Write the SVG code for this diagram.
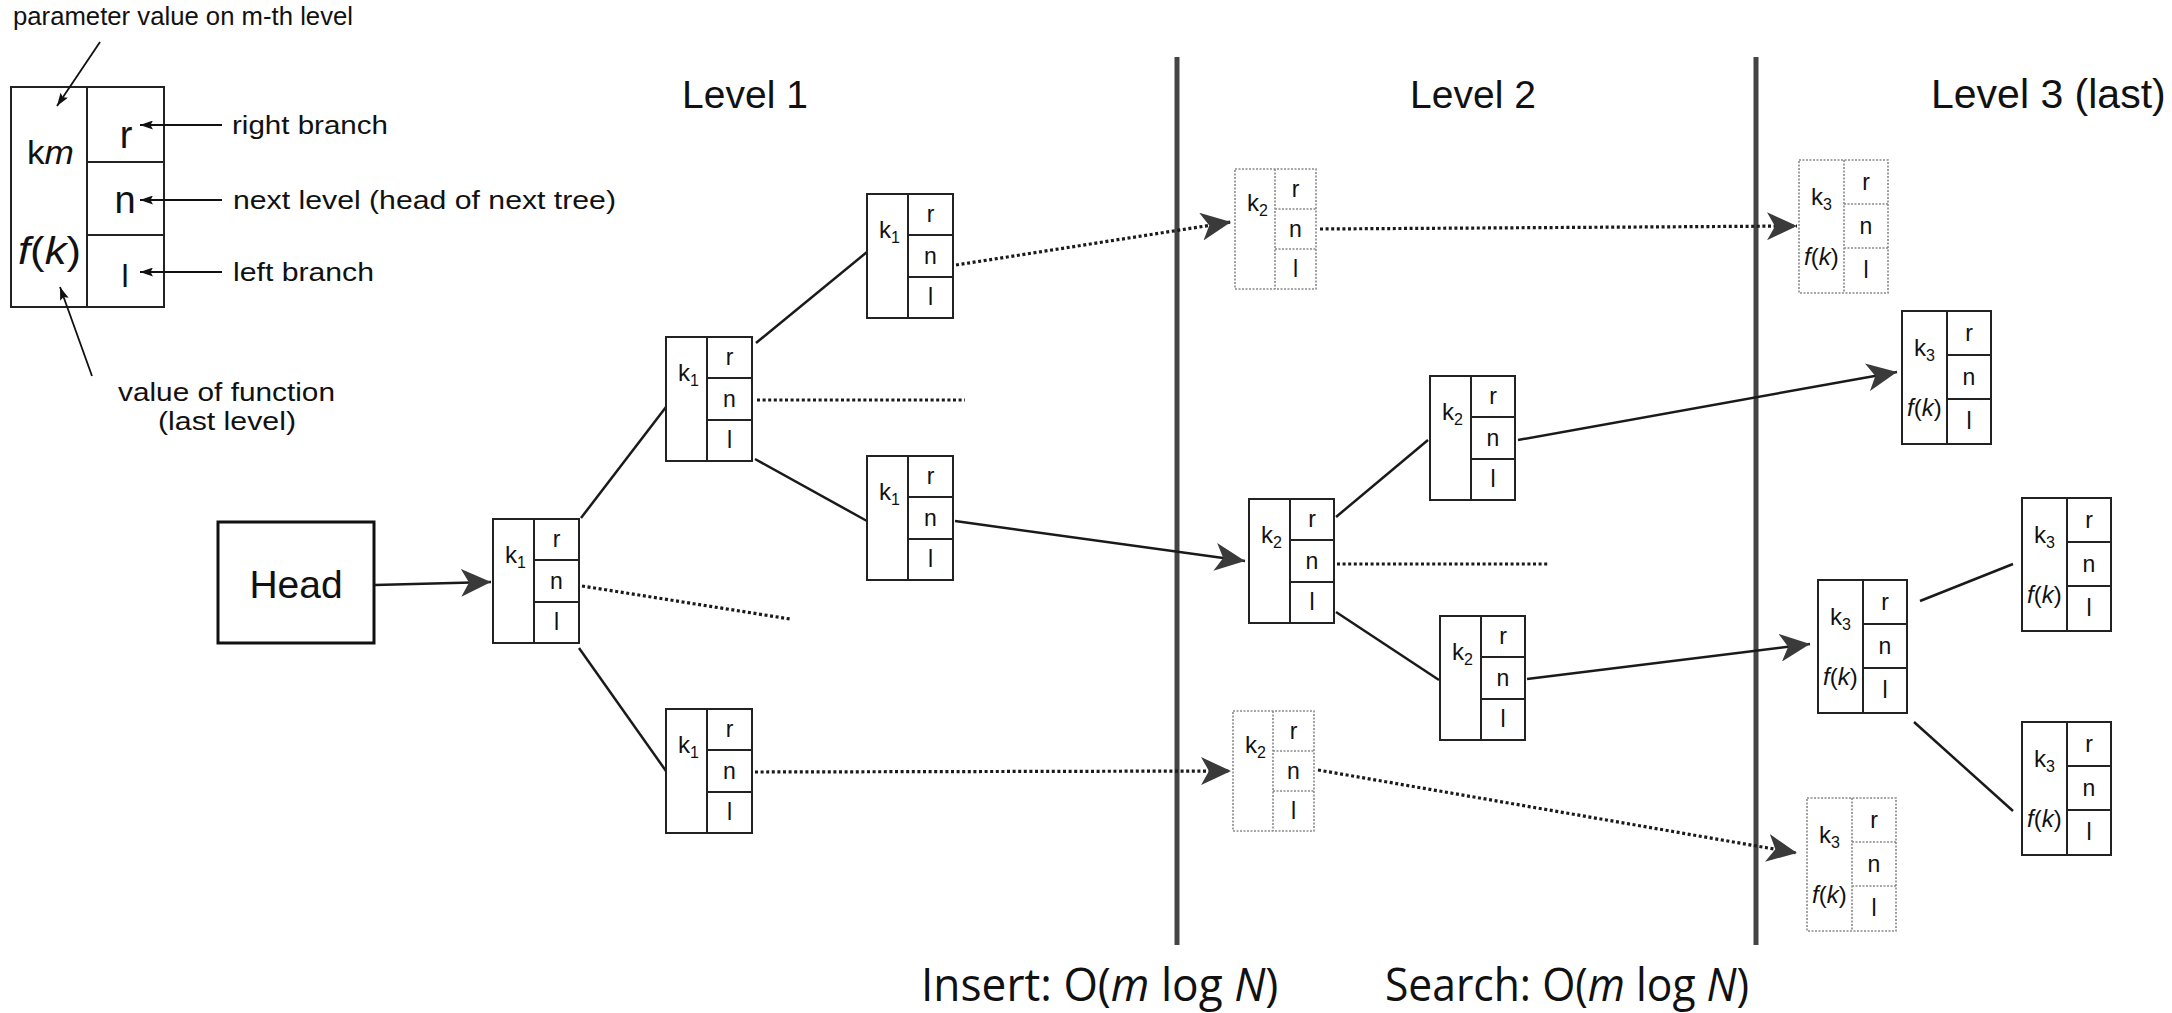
<svg xmlns="http://www.w3.org/2000/svg" width="2172" height="1013" viewBox="0 0 2172 1013">
<defs>
<marker id="ah" viewBox="0 0 30 28" refX="30" refY="14" markerWidth="30" markerHeight="28" markerUnits="userSpaceOnUse" orient="auto">
<path d="M0,0 L30,14 L0,28 L8,14 Z" fill="#3a3a3a"/>
</marker>
<marker id="sa" viewBox="0 0 13 9" refX="13" refY="4.5" markerWidth="13" markerHeight="9" markerUnits="userSpaceOnUse" orient="auto">
<path d="M0,0 L13,4.5 L0,9 L2.5,4.5 Z" fill="#111"/>
</marker>
<style>
text{font-family:"Liberation Sans",Arial,sans-serif;fill:#111}
.box rect{fill:#fff;stroke:#222;stroke-width:2}
.box path{fill:none;stroke:#222;stroke-width:2}
.dot rect{fill:#fff;stroke:#8a8a8a;stroke-width:1.6;stroke-dasharray:2 1.5}
.dot path{fill:none;stroke:#8a8a8a;stroke-width:1.6;stroke-dasharray:2 1.5}
.k{font-size:24px}
.s{font-size:16px}
.c{font-size:23px;text-anchor:middle}
.i{font-style:italic}
.ln{stroke:#1a1a1a;stroke-width:2.5;fill:none}
.dl{stroke:#1a1a1a;stroke-width:3.2;stroke-dasharray:3 2.6;fill:none}
.thin{stroke:#111;stroke-width:1.8;fill:none}
.vl{stroke:#444;stroke-width:5}
.lg{font-size:26px}
.lv{font-size:39px}
.lv3{font-size:41px}
.cx{font-family:"Open Sans","Noto Sans",sans-serif;font-size:46px}
</style>
</defs>
<rect width="2172" height="1013" fill="#fff"/>

<g id="separators">
<line class="vl" x1="1177" y1="57" x2="1177" y2="945"/>
<line class="vl" x1="1756" y1="57" x2="1756" y2="945"/>
</g>

<g id="titles">
<text class="lv" x="745" y="108" text-anchor="middle">Level 1</text>
<text class="lv" x="1473" y="108" text-anchor="middle">Level 2</text>
<text class="lv3" x="1931" y="108">Level 3 (last)</text>
<text class="cx" transform="translate(921,1001) scale(0.962,1)">Insert: O(<tspan class="i">m</tspan> log <tspan class="i">N</tspan>)</text>
<text class="cx" transform="translate(1385,1001) scale(0.926,1)">Search: O(<tspan class="i">m</tspan> log <tspan class="i">N</tspan>)</text>
</g>

<g id="legend">
<text class="lg" x="13" y="25" textLength="340" lengthAdjust="spacingAndGlyphs">parameter value on m-th level</text>
<g class="box">
<rect x="11" y="87" width="153" height="220"/>
<path d="M87,87V307M87,162H164M87,235H164"/>
</g>
<text x="27" y="164" font-size="34" textLength="47" lengthAdjust="spacingAndGlyphs">k<tspan class="i">m</tspan></text>
<text x="18" y="264" font-size="38" textLength="63" lengthAdjust="spacingAndGlyphs"><tspan class="i">f</tspan>(<tspan class="i">k</tspan>)</text>
<text x="126" y="148" font-size="38" text-anchor="middle">r</text>
<text x="125" y="213" font-size="38" text-anchor="middle">n</text>
<text x="125" y="287" font-size="32" text-anchor="middle">l</text>
<line class="thin" x1="222" y1="125" x2="140" y2="125" marker-end="url(#sa)"/>
<line class="thin" x1="222" y1="200" x2="140" y2="200" marker-end="url(#sa)"/>
<line class="thin" x1="222" y1="272" x2="140" y2="272" marker-end="url(#sa)"/>
<line class="thin" x1="100" y1="42" x2="57" y2="106" marker-end="url(#sa)"/>
<line class="thin" x1="92" y1="376" x2="60" y2="287" marker-end="url(#sa)"/>
<text class="lg" x="232" y="134" textLength="156" lengthAdjust="spacingAndGlyphs">right branch</text>
<text class="lg" x="233" y="209" textLength="383" lengthAdjust="spacingAndGlyphs">next level (head of next tree)</text>
<text class="lg" x="233" y="281" textLength="141" lengthAdjust="spacingAndGlyphs">left branch</text>
<text class="lg" x="118" y="401" textLength="217" lengthAdjust="spacingAndGlyphs">value of function</text>
<text class="lg" x="158" y="430" textLength="138" lengthAdjust="spacingAndGlyphs">(last level)</text>
</g>

<g id="head">
<rect x="218" y="522" width="156" height="121" fill="#fff" stroke="#111" stroke-width="3"/>
<text x="296" y="598" font-size="39" text-anchor="middle">Head</text>
</g>

<g id="connectors">
<path class="ln" d="M375,585 L491,582" marker-end="url(#ah)"/>
<path class="ln" d="M581,518 L666,407"/>
<path class="ln" d="M579,648 L666,771"/>
<path class="dl" d="M582,586 L790,619"/>
<path class="ln" d="M756,343 L867,252"/>
<path class="ln" d="M755,459 L867,521"/>
<path class="dl" d="M757,400 L965,400"/>
<path class="dl" d="M956,265 L1231,222" marker-end="url(#ah)"/>
<path class="ln" d="M955,521 L1245,561" marker-end="url(#ah)"/>
<path class="dl" d="M755,772 L1231,771" marker-end="url(#ah)"/>
<path class="dl" d="M1320,229 L1797,226" marker-end="url(#ah)"/>
<path class="ln" d="M1336,517 L1428,440"/>
<path class="ln" d="M1336,612 L1439,680"/>
<path class="dl" d="M1337,564 L1548,564"/>
<path class="ln" d="M1518,440 L1897,372" marker-end="url(#ah)"/>
<path class="ln" d="M1527,679 L1810,644" marker-end="url(#ah)"/>
<path class="dl" d="M1318,770 L1797,853" marker-end="url(#ah)"/>
<path class="ln" d="M1920,601 L2013,564"/>
<path class="ln" d="M1914,722 L2013,811"/>
</g>

<g id="nodeA" class="box" transform="translate(493,519)">
<rect width="86" height="124"/><path d="M41,0V124M41,41H86M41,83H86"/>
<text class="k" x="12" y="44">k<tspan class="s" dy="5">1</tspan></text>
<text class="c" x="63.5" y="28">r</text><text class="c" x="63.5" y="70">n</text><text class="c" x="63.5" y="111">l</text>
</g>
<g id="nodeB" class="box" transform="translate(666,337)">
<rect width="86" height="124"/><path d="M41,0V124M41,41H86M41,83H86"/>
<text class="k" x="12" y="44">k<tspan class="s" dy="5">1</tspan></text>
<text class="c" x="63.5" y="28">r</text><text class="c" x="63.5" y="70">n</text><text class="c" x="63.5" y="111">l</text>
</g>
<g id="nodeC" class="box" transform="translate(867,194)">
<rect width="86" height="124"/><path d="M41,0V124M41,41H86M41,83H86"/>
<text class="k" x="12" y="44">k<tspan class="s" dy="5">1</tspan></text>
<text class="c" x="63.5" y="28">r</text><text class="c" x="63.5" y="70">n</text><text class="c" x="63.5" y="111">l</text>
</g>
<g id="nodeD" class="box" transform="translate(867,456)">
<rect width="86" height="124"/><path d="M41,0V124M41,41H86M41,83H86"/>
<text class="k" x="12" y="44">k<tspan class="s" dy="5">1</tspan></text>
<text class="c" x="63.5" y="28">r</text><text class="c" x="63.5" y="70">n</text><text class="c" x="63.5" y="111">l</text>
</g>
<g id="nodeE" class="box" transform="translate(666,709)">
<rect width="86" height="124"/><path d="M41,0V124M41,41H86M41,83H86"/>
<text class="k" x="12" y="44">k<tspan class="s" dy="5">1</tspan></text>
<text class="c" x="63.5" y="28">r</text><text class="c" x="63.5" y="70">n</text><text class="c" x="63.5" y="111">l</text>
</g>

<g id="nodeF" class="dot" transform="translate(1235,169)">
<rect width="81" height="120"/><path d="M40,0V120M40,40H81M40,80H81"/>
<text class="k" x="12" y="42">k<tspan class="s" dy="5">2</tspan></text>
<text class="c" x="60.5" y="28">r</text><text class="c" x="60.5" y="68">n</text><text class="c" x="60.5" y="108">l</text>
</g>
<g id="nodeG" class="box" transform="translate(1430,376)">
<rect width="85" height="124"/><path d="M41,0V124M41,41H85M41,83H85"/>
<text class="k" x="12" y="44">k<tspan class="s" dy="5">2</tspan></text>
<text class="c" x="63" y="28">r</text><text class="c" x="63" y="70">n</text><text class="c" x="63" y="111">l</text>
</g>
<g id="nodeH" class="box" transform="translate(1249,499)">
<rect width="85" height="124"/><path d="M41,0V124M41,41H85M41,83H85"/>
<text class="k" x="12" y="44">k<tspan class="s" dy="5">2</tspan></text>
<text class="c" x="63" y="28">r</text><text class="c" x="63" y="70">n</text><text class="c" x="63" y="111">l</text>
</g>
<g id="nodeI" class="box" transform="translate(1440,616)">
<rect width="85" height="124"/><path d="M41,0V124M41,41H85M41,83H85"/>
<text class="k" x="12" y="44">k<tspan class="s" dy="5">2</tspan></text>
<text class="c" x="63" y="28">r</text><text class="c" x="63" y="70">n</text><text class="c" x="63" y="111">l</text>
</g>
<g id="nodeJ" class="dot" transform="translate(1233,711)">
<rect width="81" height="120"/><path d="M40,0V120M40,40H81M40,80H81"/>
<text class="k" x="12" y="42">k<tspan class="s" dy="5">2</tspan></text>
<text class="c" x="60.5" y="28">r</text><text class="c" x="60.5" y="68">n</text><text class="c" x="60.5" y="108">l</text>
</g>

<g id="nodeK" class="dot" transform="translate(1799,160)">
<rect width="89" height="133"/><path d="M45,0V133M45,44H89M45,88H89"/>
<text class="k" x="12" y="45">k<tspan class="s" dy="5">3</tspan></text>
<text class="k" x="5" y="105"><tspan class="i">f</tspan>(<tspan class="i">k</tspan>)</text>
<text class="c" x="67" y="30">r</text><text class="c" x="67" y="74">n</text><text class="c" x="67" y="118">l</text>
</g>
<g id="nodeL" class="box" transform="translate(1902,311)">
<rect width="89" height="133"/><path d="M45,0V133M45,44H89M45,88H89"/>
<text class="k" x="12" y="45">k<tspan class="s" dy="5">3</tspan></text>
<text class="k" x="5" y="105"><tspan class="i">f</tspan>(<tspan class="i">k</tspan>)</text>
<text class="c" x="67" y="30">r</text><text class="c" x="67" y="74">n</text><text class="c" x="67" y="118">l</text>
</g>
<g id="nodeM" class="box" transform="translate(1818,580)">
<rect width="89" height="133"/><path d="M45,0V133M45,44H89M45,88H89"/>
<text class="k" x="12" y="45">k<tspan class="s" dy="5">3</tspan></text>
<text class="k" x="5" y="105"><tspan class="i">f</tspan>(<tspan class="i">k</tspan>)</text>
<text class="c" x="67" y="30">r</text><text class="c" x="67" y="74">n</text><text class="c" x="67" y="118">l</text>
</g>
<g id="nodeN" class="box" transform="translate(2022,498)">
<rect width="89" height="133"/><path d="M45,0V133M45,44H89M45,88H89"/>
<text class="k" x="12" y="45">k<tspan class="s" dy="5">3</tspan></text>
<text class="k" x="5" y="105"><tspan class="i">f</tspan>(<tspan class="i">k</tspan>)</text>
<text class="c" x="67" y="30">r</text><text class="c" x="67" y="74">n</text><text class="c" x="67" y="118">l</text>
</g>
<g id="nodeO" class="box" transform="translate(2022,722)">
<rect width="89" height="133"/><path d="M45,0V133M45,44H89M45,88H89"/>
<text class="k" x="12" y="45">k<tspan class="s" dy="5">3</tspan></text>
<text class="k" x="5" y="105"><tspan class="i">f</tspan>(<tspan class="i">k</tspan>)</text>
<text class="c" x="67" y="30">r</text><text class="c" x="67" y="74">n</text><text class="c" x="67" y="118">l</text>
</g>
<g id="nodeP" class="dot" transform="translate(1807,798)">
<rect width="89" height="133"/><path d="M45,0V133M45,44H89M45,88H89"/>
<text class="k" x="12" y="45">k<tspan class="s" dy="5">3</tspan></text>
<text class="k" x="5" y="105"><tspan class="i">f</tspan>(<tspan class="i">k</tspan>)</text>
<text class="c" x="67" y="30">r</text><text class="c" x="67" y="74">n</text><text class="c" x="67" y="118">l</text>
</g>
</svg>
